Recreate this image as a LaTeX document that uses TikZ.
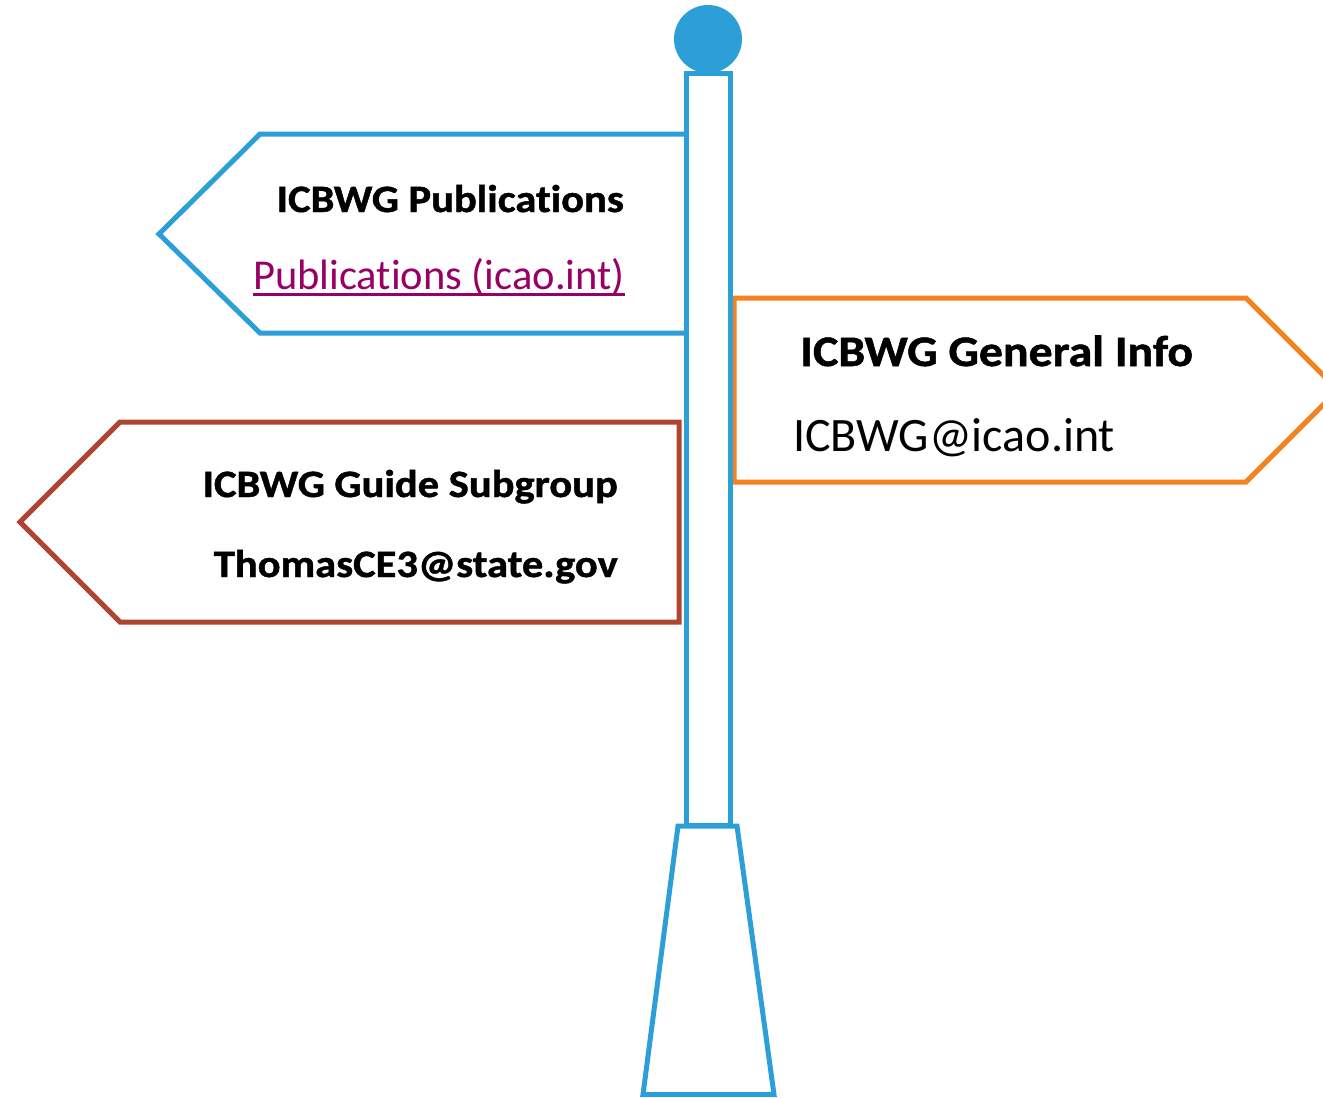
\documentclass[tikz,border=0pt]{standalone}
\usepackage{fontspec}
\setmainfont{Carlito}[Ligatures=NoCommon, BoldFeatures={FakeStretch=1.1, FakeBold=1.2}]
\definecolor{postblue}{HTML}{2C9FD9}
\definecolor{signorange}{HTML}{F5821F}
\definecolor{signbrown}{HTML}{AE4533}
\definecolor{linkcol}{HTML}{990066}
\tikzset{
  signline/.style={line width=3.75pt, line join=miter},
  boldtxt/.style={inner sep=0pt, font=\fontsize{29}{32}\selectfont\bfseries},
  bigtxt/.style={inner sep=0pt, font=\fontsize{32.6}{36}\selectfont\bfseries},
  regtxt/.style={inner sep=0pt, font=\fontsize{36}{40}\selectfont},
  linktxt/.style={inner sep=0pt, text=linkcol, font=\fontsize{31.9}{35}\selectfont}
}
\begin{document}
\begin{tikzpicture}[x=0.75pt,y=-0.75pt]
\useasboundingbox (0,0) rectangle (1323,1097);
\clip (0,0) rectangle (1323,1097);
% blue sign (left, top)
\draw[signline, postblue, fill=white] (685,134) -- (260,134) -- (159,234) -- (260,333) -- (685,333);
% brown sign (left, bottom)
\draw[signline, signbrown, fill=white] (679,422) -- (120,422) -- (20,522) -- (120,622) -- (679,622) -- cycle;
% orange sign (right)
\draw[signline, signorange, fill=white] (734,298) -- (1246,298) -- (1338,390) -- (1246,482) -- (734,482) -- cycle;
% post
\draw[signline, postblue, fill=white] (686,73.5) rectangle (730,825);
% base
\draw[signline, postblue, fill=white] (678,826) -- (737,826) -- (774,1094.5) -- (643,1094.5) -- cycle;
% ball
\fill[postblue] (708,39) circle[radius=34];
% texts
\node[boldtxt, anchor=base east] (pubtitle) at (624,212) {ICBWG Publications};
\node[linktxt, anchor=base east] (publink) at (625,289) {Publications (icao.int)};
\draw[linkcol, line width=1.9pt] ([yshift=-4.3pt]publink.base west) -- ([yshift=-4.3pt]publink.base east);
\node[bigtxt, anchor=base west] (gentitle) at (800,366) {ICBWG General Info};
\node[regtxt, anchor=base west] (genmail) at (793,451) {ICBWG@icao.int};
\node[boldtxt, anchor=base east] (guidetitle) at (618,497) {ICBWG Guide Subgroup};
\node[boldtxt, anchor=base east] (guidemail) at (618,577) {ThomasCE3@state.gov};
\end{tikzpicture}
\end{document}
